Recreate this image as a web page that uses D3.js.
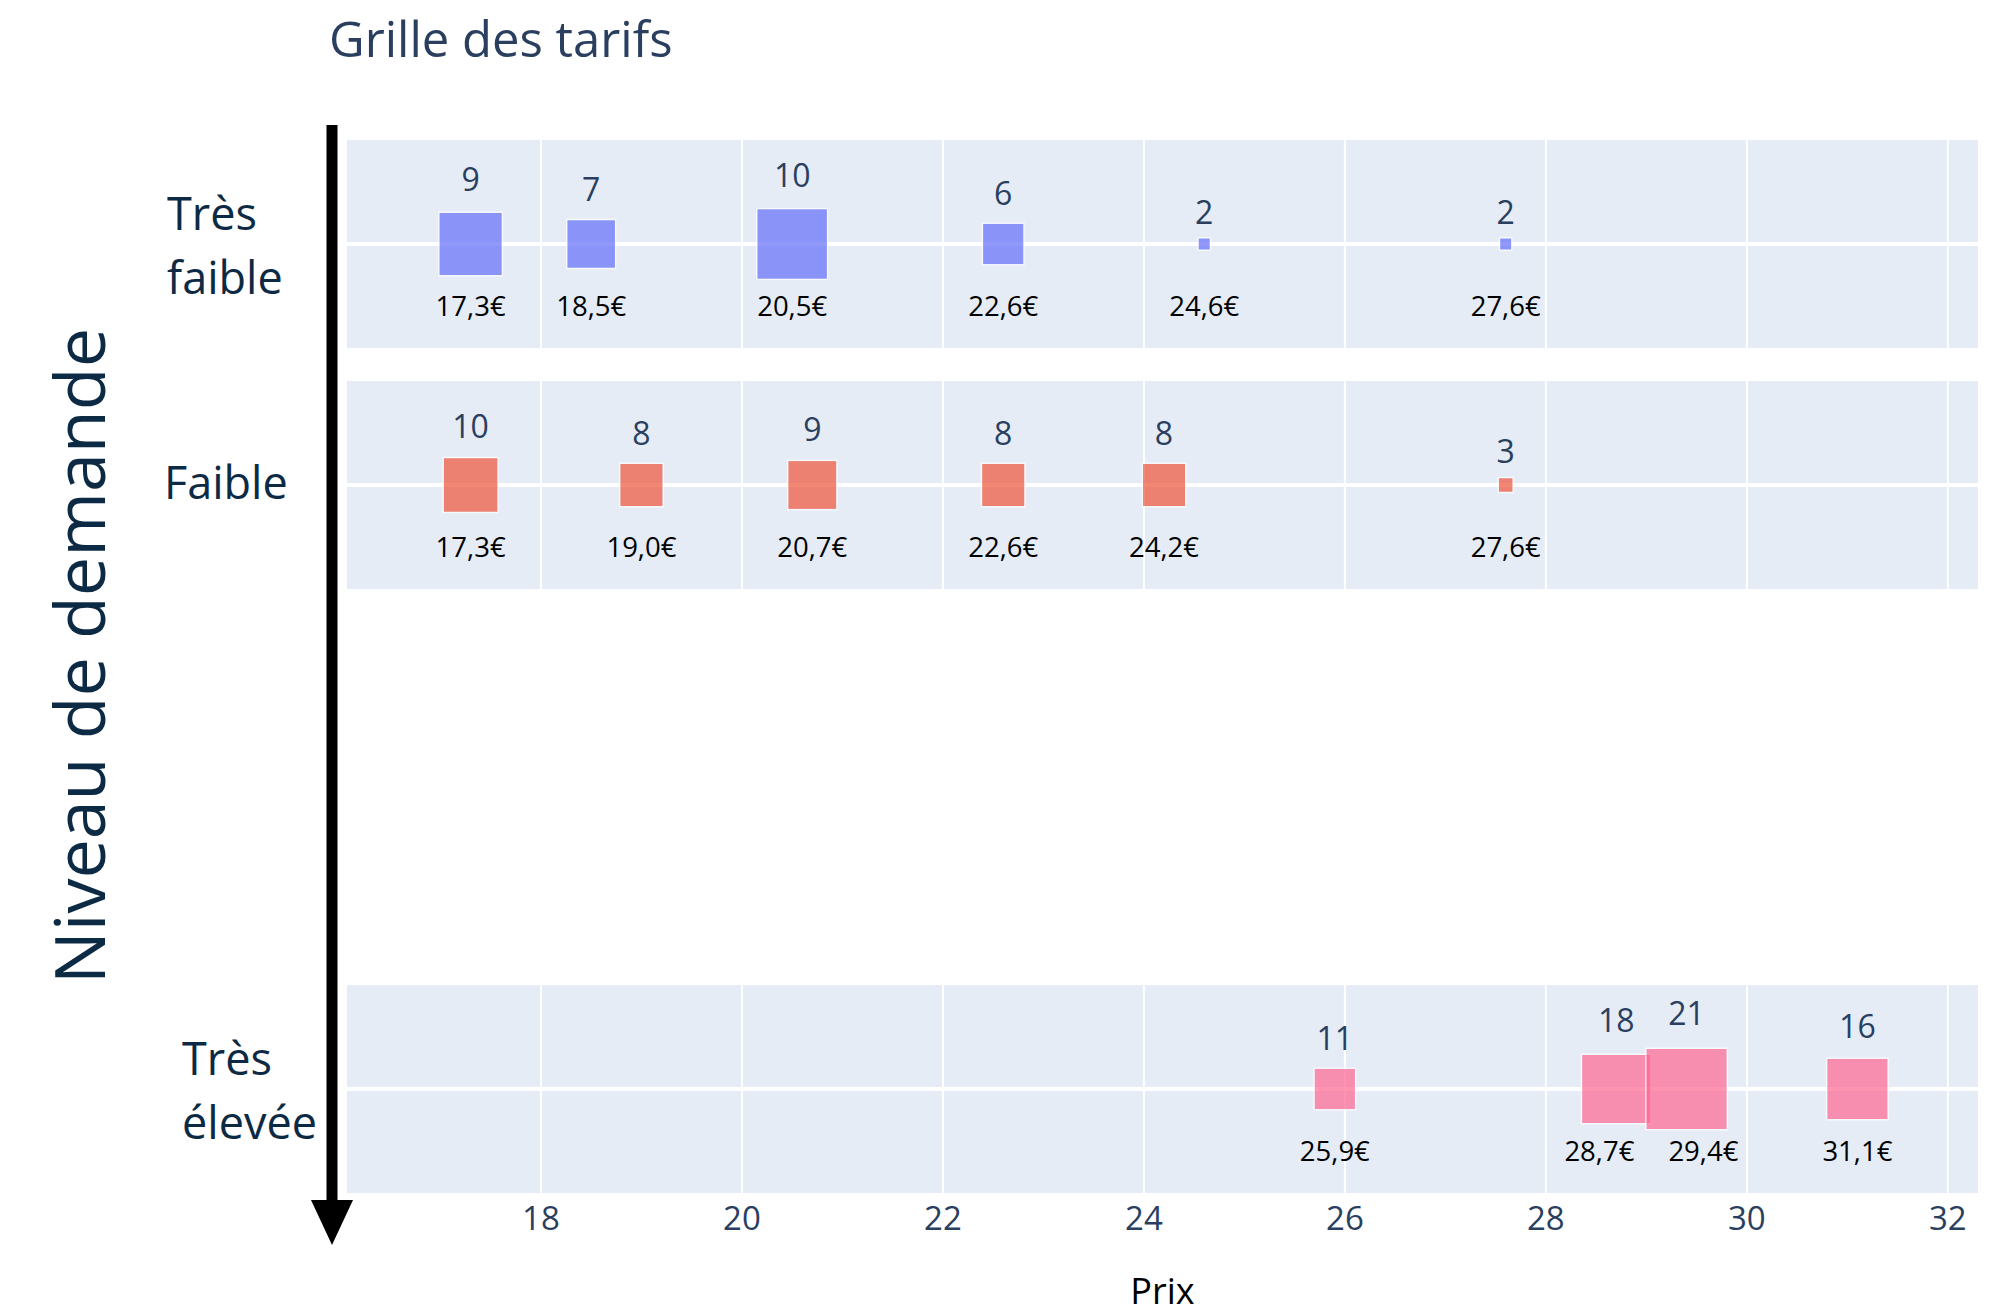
<!DOCTYPE html>
<html>
<head>
<meta charset="utf-8">
<script src="https://cdn.jsdelivr.net/npm/d3@7"></script>
<style>
  body { margin: 0; background: #fff; }
  text { font-family: "Open Sans", "Noto Sans", sans-serif; }
</style>
</head>
<body>
<div id="chart"></div>
<script>
// demand levels (one panel each)
var levels = ["Très faible", "Faible", "Très élevée"];
var levelLines = [["Très", "faible"], ["Faible"], ["Très", "élevée"]];

// prices and number of sales for each level
var prixTresFaible = [17.3, 18.5, 20.5, 22.6, 24.6, 27.6];
var nbTresFaible   = [9, 7, 10, 6, 2, 2];
var prixFaible     = [17.3, 19.0, 20.7, 22.6, 24.2, 27.6];
var nbFaible       = [10, 8, 9, 8, 8, 3];
var prixTresEleve  = [25.9, 28.7, 29.4, 31.1];
var nbTresEleve    = [11, 18, 21, 16];

var xTicks = [18, 20, 22, 24, 26, 28, 30, 32];

var series = [
  { prix: prixTresFaible, nb: nbTresFaible, color: "#636efa" },
  { prix: prixFaible,     nb: nbFaible,     color: "#ef553b" },
  { prix: prixTresEleve,  nb: nbTresEleve,  color: "#ff6692" }
];

var W = 1998, H = 1315;
var panelTop = [140, 381, 985], panelH = 208;
var labelX = [167, 164, 182];
var navy = "#2a3f5f", dark = "#0d2a45";

var svg = d3.select("#chart").append("svg")
  .attr("width", W).attr("height", H);

var x = d3.scaleLinear().domain([16.07, 32.3]).range([347, 1978]);
// marker side from the share of sales within the level
var size = d3.scaleLinear().domain([0.05, 0.32]).range([11, 82]);
var fmtPrix = function(v) { return d3.format(".1f")(v).replace(".", ",") + "€"; };

svg.append("text")
  .attr("x", 329).attr("y", 57)
  .style("font-size", "49px").style("fill", navy)
  .text("Grille des tarifs");

series.forEach(function(s, i) {
  var g = svg.append("g").attr("transform", "translate(0," + panelTop[i] + ")");
  var cy = panelH / 2;
  g.append("rect")
    .attr("x", x.range()[0]).attr("width", x.range()[1] - x.range()[0])
    .attr("height", panelH).attr("fill", "#e5ecf6");
  g.selectAll("line.grid").data(xTicks).enter().append("line")
    .attr("x1", x).attr("x2", x).attr("y1", 0).attr("y2", panelH)
    .attr("stroke", "#fff").attr("stroke-width", 2);
  g.append("line")
    .attr("x1", x.range()[0]).attr("x2", x.range()[1])
    .attr("y1", cy).attr("y2", cy)
    .attr("stroke", "#fff").attr("stroke-width", 4);

  var total = d3.sum(s.nb);
  var pts = s.prix.map(function(p, j) {
    return { prix: p, nb: s.nb[j], side: size(s.nb[j] / total), lx: x(p) };
  });

  // push apart price labels that would overlap
  var minGap = 104;
  for (var j = 1; j < pts.length; j++) {
    var d = pts[j].lx - pts[j - 1].lx;
    if (d < minGap) {
      pts[j - 1].lx -= (minGap - d) / 2;
      pts[j].lx += (minGap - d) / 2;
    }
  }

  g.selectAll("rect.m").data(pts).enter().append("rect")
    .attr("x", function(d) { return x(d.prix) - d.side / 2; })
    .attr("y", function(d) { return cy - d.side / 2; })
    .attr("width", function(d) { return d.side; })
    .attr("height", function(d) { return d.side; })
    .attr("fill", s.color).attr("opacity", 0.7)
    .attr("stroke", "#fff").attr("stroke-width", 1.5);

  g.selectAll("text.nb").data(pts).enter().append("text")
    .attr("x", function(d) { return x(d.prix); })
    .attr("y", function(d) { return cy - d.side / 2 - (12 + 0.14 * d.side); })
    .attr("text-anchor", "middle")
    .style("font-size", "32px").style("fill", navy)
    .text(function(d) { return d.nb; });

  g.selectAll("text.prix").data(pts).enter().append("text")
    .attr("x", function(d) { return d.lx; })
    .attr("y", cy + 72)
    .attr("text-anchor", "middle")
    .style("font-size", "27.5px").style("fill", "#000")
    .text(function(d) { return fmtPrix(d.prix); });

  // level name on the left
  var lines = levelLines[i];
  var t = g.append("text")
    .attr("x", labelX[i])
    .style("font-size", "45px").style("fill", dark);
  lines.forEach(function(l, k) {
    var base = lines.length === 1 ? cy + 14 : cy - 14 + k * 64;
    t.append("tspan").attr("x", labelX[i]).attr("y", base).text(l);
  });
});

// x axis tick labels
svg.append("g").selectAll("text").data(xTicks).enter().append("text")
  .attr("x", x).attr("y", 1230)
  .attr("text-anchor", "middle")
  .style("font-size", "33px").style("fill", navy)
  .text(function(d) { return d; });

svg.append("text")
  .attr("x", (x.range()[0] + x.range()[1]) / 2).attr("y", 1304)
  .attr("text-anchor", "middle")
  .style("font-size", "36px").style("fill", "#000")
  .text("Prix");

// demand arrow
svg.append("line")
  .attr("x1", 332).attr("x2", 332).attr("y1", 125).attr("y2", 1205)
  .attr("stroke", "#000").attr("stroke-width", 11);
svg.append("path")
  .attr("d", d3.line()([[311, 1200], [353, 1200], [332, 1245]]))
  .attr("fill", "#000");

svg.append("text")
  .attr("transform", "translate(105,656) rotate(-90)")
  .attr("text-anchor", "middle")
  .style("font-size", "70px").style("fill", dark)
  .text("Niveau de demande");
</script>
</body>
</html>
